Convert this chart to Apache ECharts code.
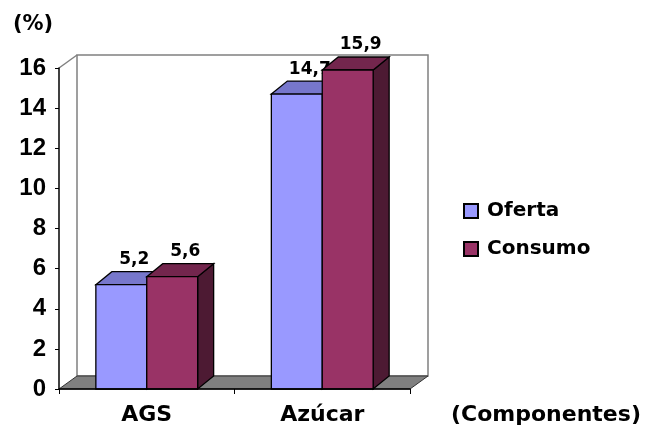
<!DOCTYPE html>
<html>
<head>
<meta charset="utf-8">
<script src="https://cdn.jsdelivr.net/npm/echarts@6/dist/echarts.min.js"></script>
<style>
  html, body { margin: 0; padding: 0; background: #fff; }
  #chart { width: 647px; height: 427px; }
</style>
</head>
<body>
<div id="chart"></div>
<script>
// Categories and series values (percent)
const categories = ['AGS', 'Azúcar'];
const seriesNames = ['Oferta', 'Consumo'];
const oferta = [5.2, 14.7];
const consumo = [5.6, 15.9];
const yMin = 0, yMax = 16, yStep = 2;

// Box colours: front, top, side
const palette = {
  Oferta:  { front: '#9999FF', top: '#7777CC', side: '#5C5CA8' },
  Consumo: { front: '#993366', top: '#73264D', side: '#4D1A33' }
};

const BAR_DX = 16, BAR_DY = 13;     // bar depth offset
const WALL_DX = 18, WALL_DY = 13;   // back wall / floor depth offset
const BAR_FRAC = 0.29;              // bar width as share of category band
const labelFont = '"DejaVu Sans", sans-serif';
const digitFont = '"Liberation Sans"';

function fmt(v) { return String(v).replace('.', ','); }

function boxRenderer(name, slot) {
  const col = palette[name];
  return function (params, api) {
    const ci = api.value(0);
    const v = api.value(1);
    const topPt = api.coord([ci, v]);
    const basePt = api.coord([ci, 0]);
    const bw = api.size([1, 0])[0] * BAR_FRAC;
    const x0 = slot === 0 ? topPt[0] - bw : topPt[0];
    const x1 = x0 + bw;
    const yt = topPt[1], yb = basePt[1];
    const stroke = { stroke: '#000', lineWidth: 1.3 };
    return {
      type: 'group',
      children: [
        { type: 'polygon', shape: { points: [[x1, yt], [x1 + BAR_DX, yt - BAR_DY], [x1 + BAR_DX, yb - BAR_DY], [x1, yb]] },
          style: Object.assign({ fill: col.side }, stroke) },
        { type: 'polygon', shape: { points: [[x0, yt], [x0 + BAR_DX, yt - BAR_DY], [x1 + BAR_DX, yt - BAR_DY], [x1, yt]] },
          style: Object.assign({ fill: col.top }, stroke) },
        { type: 'rect', shape: { x: x0, y: yt, width: bw, height: yb - yt },
          style: Object.assign({ fill: col.front }, stroke) },
        { type: 'text', style: {
            text: fmt(v), x: (x0 + x1) / 2 + 13, y: yt - BAR_DY - 12,
            align: 'center', verticalAlign: 'middle',
            fontSize: 17, fontWeight: 'bold', fontFamily: labelFont, fill: '#000' } }
      ]
    };
  };
}

// Back wall, left diagonal and grey floor of the 3D frame
function frameRenderer(params, api) {
  const cs = params.coordSys;
  const L = cs.x, T = cs.y, R = cs.x + cs.width, B = cs.y + cs.height;
  const grey = '#808080';
  return {
    type: 'group',
    children: [
      { type: 'rect', shape: { x: L + WALL_DX, y: T - WALL_DY, width: cs.width, height: cs.height },
        style: { fill: '#fff', stroke: grey, lineWidth: 1.5 } },
      { type: 'line', shape: { x1: L, y1: T, x2: L + WALL_DX, y2: T - WALL_DY },
        style: { stroke: grey, lineWidth: 1.5 } },
      { type: 'polygon', shape: { points: [[L, B], [L + WALL_DX, B - WALL_DY], [R + WALL_DX, B - WALL_DY], [R, B]] },
        style: { fill: grey, stroke: '#333', lineWidth: 1 } }
    ]
  };
}

const chart = echarts.init(document.getElementById('chart'), null, { renderer: 'canvas' });

chart.setOption({
  animation: false,
  backgroundColor: '#fff',
  grid: { left: 59, right: 237, top: 68, bottom: 38 },
  legend: {
    data: seriesNames,
    orient: 'vertical',
    left: 463, top: 201, padding: 0,
    itemWidth: 14, itemHeight: 14, itemGap: 18,
    icon: 'rect',
    textStyle: { fontSize: 20, fontWeight: 'bold', fontFamily: labelFont, color: '#000', lineHeight: 20, padding: [0, 0, 0, 4] }
  },
  xAxis: {
    type: 'category',
    data: categories,
    z: 5,
    name: '(Componentes)',
    nameLocation: 'end',
    nameGap: 41,
    nameTextStyle: { fontSize: 22, fontWeight: 'bold', fontFamily: labelFont, color: '#000',
      align: 'left', verticalAlign: 'top', padding: [15, 0, 0, 0] },
    axisLine: { lineStyle: { color: '#000', width: 1.5 } },
    axisTick: { show: true, length: 5, lineStyle: { color: '#000' } },
    axisLabel: { fontSize: 22, fontWeight: 'bold', fontFamily: labelFont, color: '#000', margin: 15 },
    splitLine: { show: false }
  },
  yAxis: {
    type: 'value',
    min: yMin, max: yMax, interval: yStep,
    z: 5,
    name: '(%)',
    nameLocation: 'end',
    nameGap: 43,
    nameTextStyle: { fontSize: 21, fontWeight: 'bold', fontFamily: labelFont, color: '#000',
      align: 'center', verticalAlign: 'middle', padding: [0, 52, 0, 0] },
    axisLine: { show: true, lineStyle: { color: '#000', width: 1.5 } },
    axisTick: { show: true, length: 4, lineStyle: { color: '#000' } },
    axisLabel: { fontSize: 24, fontWeight: 'bold', fontFamily: digitFont, color: '#000', margin: 13 },
    splitLine: { show: false }
  },
  series: [
    { type: 'custom', name: 'frame', silent: true, z: 1, renderItem: frameRenderer, data: [[0, 0]] },
    { type: 'custom', name: 'Oferta', z: 2, renderItem: boxRenderer('Oferta', 0),
      itemStyle: { color: palette.Oferta.front, borderColor: '#000', borderWidth: 1 },
      encode: { x: 0, y: 1 }, data: oferta.map((v, i) => [i, v]) },
    { type: 'custom', name: 'Consumo', z: 3, renderItem: boxRenderer('Consumo', 1),
      itemStyle: { color: palette.Consumo.front, borderColor: '#000', borderWidth: 1 },
      encode: { x: 0, y: 1 }, data: consumo.map((v, i) => [i, v]) }
  ]
});
</script>
</body>
</html>
